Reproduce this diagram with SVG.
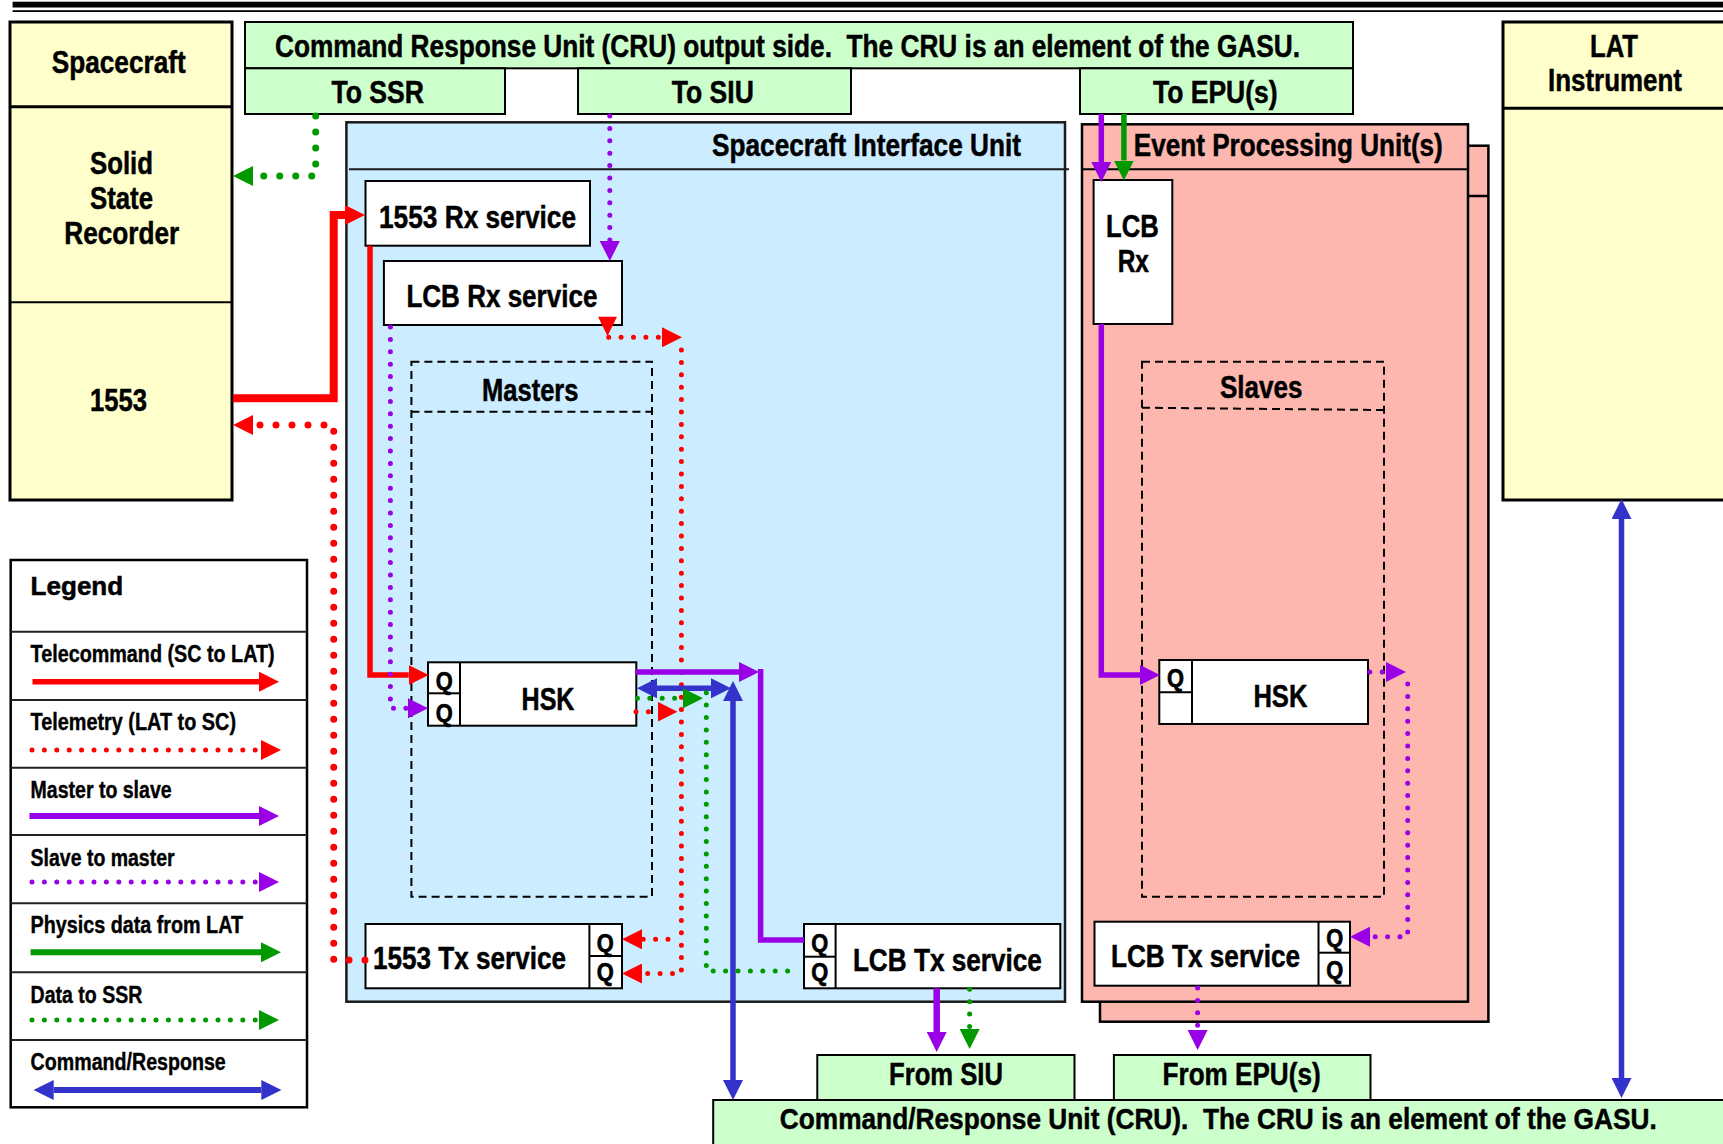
<svg xmlns="http://www.w3.org/2000/svg" width="1723" height="1144" viewBox="0 0 1723 1144">
<style>
.t{font-family:"Liberation Sans Narrow","Liberation Sans",Arial,sans-serif;font-weight:bold;fill:#000;stroke:#000;stroke-width:0.5}
.w{font-family:"Liberation Sans",Arial,sans-serif}
.big{font-size:32px}
.m{font-size:32px}
.q{font-size:25px;stroke-width:0.7}
.lg{font-size:23.5px;stroke-width:0.4}
.box{fill:#fff;stroke:#000;stroke-width:2}
.yel{fill:#FFFFCC;stroke:#000;stroke-width:3}
.grn{fill:#CCFFCC;stroke:#000;stroke-width:2}
.siu{fill:#CCECFF;stroke:#1a1a1a;stroke-width:2.5}
.epu{fill:#FDB7AE;stroke:#000;stroke-width:2.5}
.dash{fill:none;stroke:#000;stroke-width:2;stroke-dasharray:8 5}
.ln{stroke:#000;stroke-width:2;fill:none}
.s{fill:none;stroke-linejoin:miter}
.d{fill:none;stroke-linecap:round;stroke-dasharray:0 12.4;stroke-width:5}
.dl{fill:none;stroke-linecap:round;stroke-dasharray:0 16;stroke-width:7}
.r{stroke:#FF0000}
.p{stroke:#9900E6}
.g{stroke:#009900}
.b{stroke:#3333CC}
.mr{marker-end:url(#aR)}
.mp{marker-end:url(#aP)}
.mg{marker-end:url(#aG)}
.mb{marker-end:url(#aB);marker-start:url(#aB)}
</style>
<defs>
<marker id="aR" markerUnits="userSpaceOnUse" markerWidth="20" markerHeight="20" viewBox="0 0 20 20" refX="0" refY="10" orient="auto-start-reverse"><path d="M0,0L20,10L0,20z" fill="#FF0000"/></marker>
<marker id="aP" markerUnits="userSpaceOnUse" markerWidth="20" markerHeight="20" viewBox="0 0 20 20" refX="0" refY="10" orient="auto-start-reverse"><path d="M0,0L20,10L0,20z" fill="#9900E6"/></marker>
<marker id="aG" markerUnits="userSpaceOnUse" markerWidth="20" markerHeight="20" viewBox="0 0 20 20" refX="0" refY="10" orient="auto-start-reverse"><path d="M0,0L20,10L0,20z" fill="#009900"/></marker>
<marker id="aB" markerUnits="userSpaceOnUse" markerWidth="20" markerHeight="20" viewBox="0 0 20 20" refX="0" refY="10" orient="auto-start-reverse"><path d="M0,0L20,10L0,20z" fill="#3333CC"/></marker>
</defs>
<rect width="1723" height="1144" fill="#fff"/>
<g id="top-rule">
<rect x="12.6" y="1.7" width="1711" height="5.8" fill="#000"/>
<rect x="12.6" y="10.2" width="1711" height="1.8" fill="#000"/>
</g>
<g id="spacecraft">
<rect class="yel" x="10" y="22" width="222" height="478"/>
<line x1="10" y1="106.7" x2="232" y2="106.7" stroke="#000" stroke-width="3"/>
<line x1="10" y1="302.3" x2="232" y2="302.3" stroke="#000" stroke-width="2"/>
<text class="t big" x="51.7" y="72.7" textLength="134" lengthAdjust="spacingAndGlyphs">Spacecraft</text>
<text class="t big" x="90" y="174" textLength="63" lengthAdjust="spacingAndGlyphs">Solid</text>
<text class="t big" x="90" y="209" textLength="63" lengthAdjust="spacingAndGlyphs">State</text>
<text class="t big" x="64.3" y="244" textLength="115" lengthAdjust="spacingAndGlyphs">Recorder</text>
<text class="t big" x="90" y="410.7" textLength="57" lengthAdjust="spacingAndGlyphs">1553</text>
</g>
<g id="lat">
<rect class="yel" x="1503" y="22" width="232" height="478"/>
<line x1="1503" y1="108.3" x2="1723" y2="108.3" stroke="#000" stroke-width="3"/>
<text class="t big" x="1590" y="57.3" textLength="48" lengthAdjust="spacingAndGlyphs">LAT</text>
<text class="t big" x="1548" y="90.7" textLength="134" lengthAdjust="spacingAndGlyphs">Instrument</text>
</g>
<g id="cru-out">
<rect class="grn" x="245" y="22" width="1108" height="46.3"/>
<rect class="grn" x="245" y="68.3" width="260" height="45.7"/>
<rect class="grn" x="578" y="68.3" width="273" height="45.7"/>
<rect class="grn" x="1080" y="68.3" width="273" height="45.7"/>
<text class="t m" x="275" y="57.3" textLength="1025" lengthAdjust="spacingAndGlyphs">Command Response Unit (CRU) output side.&#160; The CRU is an element of the GASU.</text>
<text class="t m" x="331.4" y="103.3" textLength="92.6" lengthAdjust="spacingAndGlyphs">To SSR</text>
<text class="t m" x="671.8" y="103.3" textLength="82" lengthAdjust="spacingAndGlyphs">To SIU</text>
<text class="t m" x="1153" y="103.3" textLength="124.6" lengthAdjust="spacingAndGlyphs">To EPU(s)</text>
</g>
<g id="siu">
<rect class="siu" x="346.4" y="122.3" width="718.6" height="879.4"/>
<line x1="349" y1="169.3" x2="1069" y2="169.3" stroke="#1a1a1a" stroke-width="2"/>
<text class="t m" x="712" y="156" textLength="309" lengthAdjust="spacingAndGlyphs">Spacecraft Interface Unit</text>
</g>
<g id="rx1553">
<rect class="box" x="365.5" y="181" width="224.5" height="64.7"/>
<text class="t m" x="379" y="228.3" textLength="197" lengthAdjust="spacingAndGlyphs">1553 Rx service</text>
</g>
<g id="lcbrx-siu">
<rect class="box" x="383.9" y="261" width="238.1" height="64"/>
<text class="t m" x="406.4" y="307.3" textLength="191" lengthAdjust="spacingAndGlyphs">LCB Rx service</text>
</g>
<g id="masters">
<rect class="dash" x="411.4" y="361.7" width="240.6" height="535"/>
<line class="dash" x1="411.4" y1="411.7" x2="652" y2="411.7"/>
<text class="t m" x="482" y="400.7" textLength="96.5" lengthAdjust="spacingAndGlyphs">Masters</text>
</g>
<g id="hsk-master">
<rect class="box" x="428" y="662.3" width="208.3" height="63.4"/>
<line class="ln" x1="460" y1="662.3" x2="460" y2="725.7"/>
<line class="ln" x1="428" y1="693.3" x2="460" y2="693.3"/>
<text class="t q" x="435.7" y="690" textLength="17" lengthAdjust="spacingAndGlyphs">Q</text>
<text class="t q" x="435.7" y="721.5" textLength="17" lengthAdjust="spacingAndGlyphs">Q</text>
<text class="t m" x="521.5" y="710" textLength="53" lengthAdjust="spacingAndGlyphs">HSK</text>
</g>
<g id="tx1553">
<rect class="box" x="365.5" y="924" width="256.5" height="64.3"/>
<line class="ln" x1="589.4" y1="924" x2="589.4" y2="988.3"/>
<line class="ln" x1="589.4" y1="956" x2="622" y2="956"/>
<text class="t m" x="373" y="969.3" textLength="193" lengthAdjust="spacingAndGlyphs">1553 Tx service</text>
<text class="t q" x="596.8" y="951.5" textLength="17" lengthAdjust="spacingAndGlyphs">Q</text>
<text class="t q" x="596.8" y="980.5" textLength="17" lengthAdjust="spacingAndGlyphs">Q</text>
</g>
<g id="lcbtx-siu">
<rect class="box" x="804" y="924" width="256.3" height="64.3"/>
<line class="ln" x1="835.6" y1="924" x2="835.6" y2="988.3"/>
<line class="ln" x1="804" y1="956.7" x2="835.6" y2="956.7"/>
<text class="t q" x="811.3" y="951.5" textLength="17" lengthAdjust="spacingAndGlyphs">Q</text>
<text class="t q" x="811.3" y="980.5" textLength="17" lengthAdjust="spacingAndGlyphs">Q</text>
<text class="t m" x="852.9" y="970.7" textLength="189" lengthAdjust="spacingAndGlyphs">LCB Tx service</text>
</g>
<g id="epu">
<rect class="epu" x="1100" y="145.7" width="388.4" height="876"/>
<line x1="1100" y1="196" x2="1488.4" y2="196" stroke="#000" stroke-width="2.5"/>
<rect class="epu" x="1082" y="124.3" width="386" height="877.4"/>
<line x1="1082" y1="169.3" x2="1468" y2="169.3" stroke="#000" stroke-width="2"/>
<text class="t m" x="1133.8" y="156" textLength="309" lengthAdjust="spacingAndGlyphs">Event Processing Unit(s)</text>
</g>
<g id="lcbrx-epu">
<rect class="box" x="1093.6" y="180" width="78.7" height="144"/>
<text class="t big" x="1106" y="237.3" textLength="52.7" lengthAdjust="spacingAndGlyphs">LCB</text>
<text class="t big" x="1117.7" y="271.7" textLength="31.3" lengthAdjust="spacingAndGlyphs">Rx</text>
</g>
<g id="slaves">
<rect class="dash" x="1142" y="361.7" width="242" height="535"/>
<line class="dash" x1="1142" y1="407.7" x2="1384" y2="410"/>
<text class="t m" x="1220" y="398.3" textLength="82.5" lengthAdjust="spacingAndGlyphs">Slaves</text>
</g>
<g id="hsk-slave">
<rect class="box" x="1159.3" y="660" width="208.7" height="64"/>
<line class="ln" x1="1192" y1="660" x2="1192" y2="724"/>
<line class="ln" x1="1159.3" y1="692.3" x2="1192" y2="692.3"/>
<text class="t q" x="1167" y="687" textLength="17" lengthAdjust="spacingAndGlyphs">Q</text>
<text class="t m" x="1253.4" y="707" textLength="54" lengthAdjust="spacingAndGlyphs">HSK</text>
</g>
<g id="lcbtx-epu">
<rect class="box" x="1094.5" y="921.7" width="255.5" height="64"/>
<line class="ln" x1="1318.5" y1="921.7" x2="1318.5" y2="985.7"/>
<line class="ln" x1="1318.5" y1="952.7" x2="1350" y2="952.7"/>
<text class="t m" x="1111" y="967.3" textLength="189" lengthAdjust="spacingAndGlyphs">LCB Tx service</text>
<text class="t q" x="1326.3" y="947" textLength="17" lengthAdjust="spacingAndGlyphs">Q</text>
<text class="t q" x="1326.3" y="978.5" textLength="17" lengthAdjust="spacingAndGlyphs">Q</text>
</g>
<g id="from-siu">
<rect class="grn" x="817.3" y="1055" width="257.2" height="45"/>
<text class="t m" x="889" y="1085" textLength="114" lengthAdjust="spacingAndGlyphs">From SIU</text>
</g>
<g id="from-epu">
<rect class="grn" x="1113.9" y="1055" width="256.6" height="45.7"/>
<text class="t m" x="1162.6" y="1085" textLength="158" lengthAdjust="spacingAndGlyphs">From EPU(s)</text>
</g>
<g id="cru-in">
<rect class="grn" x="713.2" y="1100" width="1015" height="60"/>
<text class="t" font-size="30" x="779.8" y="1129" textLength="877" lengthAdjust="spacingAndGlyphs">Command/Response Unit (CRU).&#160; The CRU is an element of the GASU.</text>
</g>
<g id="legend">
<rect x="10.7" y="560" width="296.3" height="547.3" fill="#fff" stroke="#000" stroke-width="2.5"/>
<g stroke="#222" stroke-width="2">
<line x1="10.7" y1="631.7" x2="307" y2="631.7"/>
<line x1="10.7" y1="700" x2="307" y2="700"/>
<line x1="10.7" y1="767.7" x2="307" y2="767.7"/>
<line x1="10.7" y1="835" x2="307" y2="835"/>
<line x1="10.7" y1="903.3" x2="307" y2="903.3"/>
<line x1="10.7" y1="972.3" x2="307" y2="972.3"/>
<line x1="10.7" y1="1040" x2="307" y2="1040"/>
</g>
<text class="t w" font-size="25" x="30.6" y="595" textLength="92.6" lengthAdjust="spacingAndGlyphs">Legend</text>
<text class="t lg" x="30.6" y="661.7" textLength="244" lengthAdjust="spacingAndGlyphs">Telecommand (SC to LAT)</text>
<text class="t lg" x="30.6" y="730" textLength="205.4" lengthAdjust="spacingAndGlyphs">Telemetry (LAT to SC)</text>
<text class="t lg" x="30.6" y="797.7" textLength="141" lengthAdjust="spacingAndGlyphs">Master to slave</text>
<text class="t lg" x="30.6" y="866" textLength="144" lengthAdjust="spacingAndGlyphs">Slave to master</text>
<text class="t lg" x="30.6" y="932.7" textLength="212.4" lengthAdjust="spacingAndGlyphs">Physics data from LAT</text>
<text class="t lg" x="30.6" y="1002.7" textLength="111.8" lengthAdjust="spacingAndGlyphs">Data to SSR</text>
<text class="t lg" x="30.6" y="1070" textLength="195.2" lengthAdjust="spacingAndGlyphs">Command/Response</text>
<path class="s r mr" stroke-width="5.5" d="M32.5 681.7H259"/>
<path class="d r mr" d="M32 750H261"/>
<path class="s p mp" stroke-width="6" d="M29.5 816H259"/>
<path class="d p mp" d="M32 882H259"/>
<path class="s g mg" stroke-width="6" d="M30.6 952.3H261"/>
<path class="d g mg" d="M32 1020H259"/>
<path class="s b mb" stroke-width="6" d="M53.7 1090H261.3"/>
</g>
<g id="connectors">
<path class="dl g mg" d="M315.7 116V176H253"/>
<path class="s r mr" stroke-width="8" d="M233 398.3H333.7V215H345"/>
<path class="s r mr" stroke-width="5.5" d="M370 245.7V675H408.7"/>
<path class="d r mr" d="M636 711.7H657.5"/>
<polygon points="598,316.7 617,316.7 607.5,336" fill="#FF0000"/>
<path class="d r mr" d="M608.7 337.3H662"/>
<path class="d r mr" d="M681.4 350V973.5H642"/>
<path class="d r mr" d="M668 939.3H642"/>
<path class="dl r mr" d="M365 960H333.7V425H253"/>
<path class="d p mp" d="M609.8 116V241"/>
<path class="d p mp" d="M390.4 327V708.3H408"/>
<path class="s p mp" stroke-width="5.5" d="M636 672H739"/>
<path class="s p" stroke-width="5.5" d="M760.6 669V940H804"/>
<path class="s b mb" stroke-width="5.5" d="M657 688.3H711"/>
<path class="s b mb" stroke-width="5.5" d="M733 701V1080"/>
<path class="d g mg" d="M637.4 698.3H683"/>
<path class="d g" d="M706.3 692.7V971H794.3"/>
<path class="s p mp" stroke-width="6.5" d="M936.7 988.3V1032"/>
<path class="d g mg" d="M969.6 989.3V1029"/>
<path class="s p mp" stroke-width="5.5" d="M1101.3 114V162"/>
<path class="s g mg" stroke-width="5.5" d="M1123.9 114V160.5"/>
<path class="s p mp" stroke-width="5.5" d="M1101.3 324V675H1140"/>
<path class="d p mp" d="M1369.8 672H1386"/>
<path class="d p mp" d="M1407.7 684V936.7H1370"/>
<path class="d p mp" d="M1197.6 988V1030"/>
<path class="s b mb" stroke-width="5.5" d="M1621.5 519V1078"/>
</g>
</svg>
